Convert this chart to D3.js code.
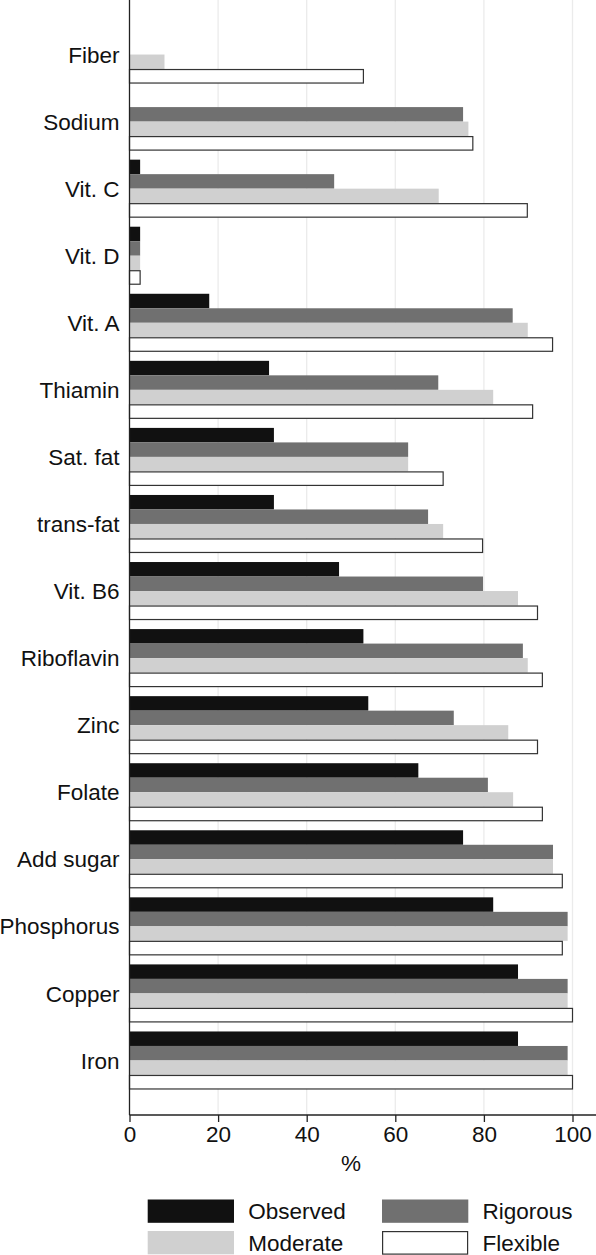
<!DOCTYPE html>
<html>
<head>
<meta charset="utf-8">
<script src="https://cdn.jsdelivr.net/npm/d3@7"></script>
<style>
  html, body { margin: 0; padding: 0; background: #fff; }
  svg { display: block; }
  text { font-family: "Liberation Sans", Arial, Helvetica, sans-serif; fill: #111; }
</style>
</head>
<body>
<script>
const categories = ["Fiber","Sodium","Vit. C","Vit. D","Vit. A","Thiamin","Sat. fat","trans-fat","Vit. B6","Riboflavin","Zinc","Folate","Add sugar","Phosphorus","Copper","Iron"];
const seriesNames = ["Observed","Rigorous","Moderate","Flexible"];
const observed = [0, 0, 2.4, 2.4, 18.0, 31.5, 32.6, 32.6, 47.3, 52.8, 53.9, 65.2, 75.3, 82.1, 87.7, 87.7];
const rigorous = [0, 75.3, 46.2, 2.4, 86.5, 69.7, 62.9, 67.4, 79.8, 88.8, 73.2, 80.9, 95.6, 98.9, 98.9, 98.9];
const moderate = [7.9, 76.5, 69.8, 2.4, 89.9, 82.1, 62.9, 70.8, 87.7, 89.9, 85.5, 86.6, 95.6, 98.9, 98.9, 98.9];
const flexible = [52.8, 77.5, 89.8, 2.4, 95.5, 91.0, 70.8, 79.7, 92.1, 93.2, 92.1, 93.2, 97.7, 97.7, 100, 100];
const xTicks = [0, 20, 40, 60, 80, 100];
const xLabel = "%";

const seriesValues = [observed, rigorous, moderate, flexible];
const fills = ["#111111", "#707070", "#d0d0d0", "#ffffff"];
const strokes = ["none", "none", "none", "#333333"];

const W = 596, H = 1255;
const FS = 22.5;
const svg = d3.select("body").append("svg").attr("width", W).attr("height", H);

const x0 = 129.5, axisY = 1115;
const x = d3.scaleLinear().domain([0, 105]).range([x0, x0 + 4.43 * 105]);
const y = d3.scaleBand().domain(categories).range([21, 1094]).paddingInner(0.135).paddingOuter(0.0675);
const ySub = d3.scaleBand().domain(seriesNames).range([0, y.bandwidth()]);

// gridlines
svg.append("g").selectAll("line").data(xTicks.filter(t => t > 0)).join("line")
  .attr("x1", d => x(d)).attr("x2", d => x(d))
  .attr("y1", 0).attr("y2", axisY)
  .attr("stroke", "#ebebeb").attr("stroke-width", 1.3);

// bars
const groups = svg.append("g").selectAll("g").data(categories).join("g")
  .attr("transform", c => `translate(0,${y(c)})`);

groups.selectAll("rect")
  .data((c, i) => seriesNames.map((s, j) => ({ s, j, v: seriesValues[j][i] })))
  .join("rect")
  .filter(d => d.v > 0)
  .attr("x", x(0))
  .attr("y", d => ySub(d.s) + (d.j === 3 ? 0.5 : 0))
  .attr("width", d => x(d.v) - x(0))
  .attr("height", d => ySub.bandwidth() - (d.j === 3 ? 1 : 0))
  .attr("fill", d => fills[d.j])
  .attr("stroke", d => strokes[d.j])
  .attr("stroke-width", 1.2);

// category labels
svg.append("g").selectAll("text").data(categories).join("text")
  .attr("x", 119.5)
  .attr("y", c => y(c) + y.bandwidth() / 2)
  .attr("dy", "0.36em")
  .attr("text-anchor", "end")
  .attr("font-size", FS)
  .text(c => c);

// left axis line
svg.append("line").attr("x1", x0).attr("x2", x0).attr("y1", 0).attr("y2", axisY)
  .attr("stroke", "#222").attr("stroke-width", 1.3);

// bottom axis
const xAxis = d3.axisBottom(x).tickValues(xTicks).tickSize(7).tickPadding(4).tickFormat(d3.format("d"));
const gx = svg.append("g").attr("transform", `translate(0,${axisY})`).call(xAxis);
gx.select(".domain").attr("stroke", "#222").attr("stroke-width", 1.3).attr("d", `M${x0},0H${W}`);
gx.selectAll(".tick line").attr("stroke", "#222").attr("stroke-width", 1.3);
gx.selectAll(".tick text").attr("font-size", FS).attr("fill", "#111")
  .attr("font-family", "Liberation Sans, Arial, sans-serif");

svg.append("text").attr("x", x(50)).attr("y", 1171).attr("text-anchor", "middle")
  .attr("font-size", FS).text(xLabel);

// legend
const legendOrder = [0, 1, 2, 3];
const legPos = [[147.7, 1199.5], [382, 1199.5], [147.7, 1231], [382, 1231]];
const leg = svg.append("g").selectAll("g").data(legendOrder).join("g")
  .attr("transform", (d, i) => `translate(${legPos[i][0]},${legPos[i][1]})`);
leg.append("rect")
  .attr("x", d => d === 3 ? 0.6 : 0).attr("y", d => d === 3 ? 0.6 : 0)
  .attr("width", d => d === 3 ? 85 : 86.3)
  .attr("height", d => d === 3 ? 22.5 : 23.3)
  .attr("fill", d => fills[d]).attr("stroke", d => strokes[d]).attr("stroke-width", 1.2);
leg.append("text").attr("x", 100.5).attr("y", 11.7).attr("dy", "0.36em")
  .attr("font-size", FS).text(d => seriesNames[d]);
</script>
</body>
</html>
